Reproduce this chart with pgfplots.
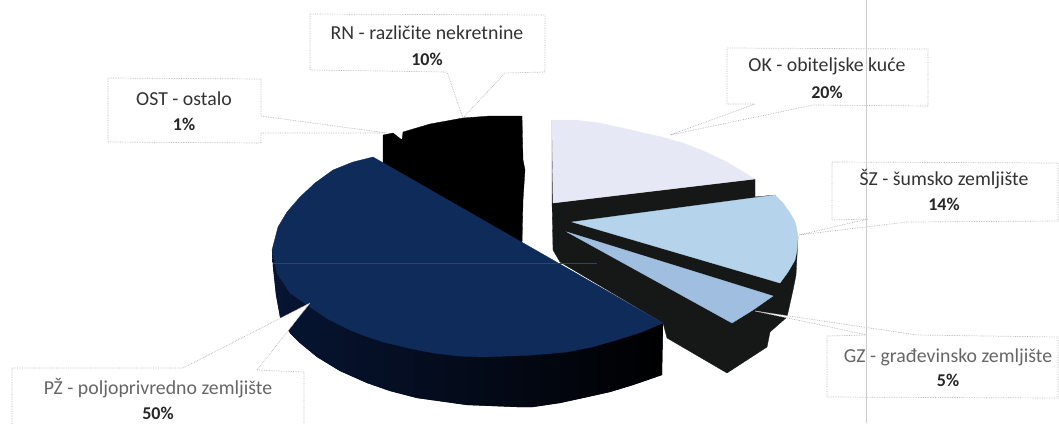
\documentclass[border=0pt]{standalone}
\usepackage{pgfplots}
\pgfplotsset{compat=1.18}
\usepackage{fontspec}
\setmainfont{Carlito}
\definecolor{bluetop}{HTML}{0F2B5A}
\definecolor{blueside}{HTML}{071533}
\definecolor{okc}{HTML}{E6E9F5}
\definecolor{szc}{HTML}{B5D3EA}
\definecolor{gzc}{HTML}{A0BFE0}
\definecolor{darks}{HTML}{161818}
\definecolor{boxc}{HTML}{B4B4B4}
\definecolor{txt}{HTML}{333333}
\pgfplotsset{
  face/.style={fill=#1,draw=#1,line width=0.3pt,forget plot},
  callout/.style={fill=white,draw=boxc,line width=0.7pt,densely dotted,forget plot},
}
\newcommand{\lab}[4]{\node[text=#4,font=\fontsize{19.8}{22}\selectfont] at (axis cs:#1,#2) {#3};}
\newcommand{\pct}[3]{\node[text=black!85,font=\fontsize{18}{20}\selectfont\bfseries] at (axis cs:#1,#2) {#3};}
\begin{document}
\begin{tikzpicture}
\begin{axis}[x=1pt,y=1pt,y dir=reverse,xmin=0,xmax=1059,ymin=0,ymax=423,hide axis,clip=true,
  scale only axis,anchor=north west,at={(0,0)}]
\addplot[draw=none,forget plot] coordinates {(0,0) (1059,423)};
% RN + OST (black)
\addplot[face=black] coordinates {(383,135)(393,133)(402,140)(403,132)(430,124)(463,118)(490,116)(522,116)(523,160)(525,170)(523,200)(522,245)(383,165)} -- cycle;
% dark sides of right wedges
\addplot[face=darks] coordinates {(552,120)(553,203)(755,179)(755,197)(775,195)(798,237)(796,275)(793,290)(787,317)(770,332)(767,347)(727,373)(667,338)(663,323)(560,262)(553,250)(552,200)} -- cycle;
% OK
\addplot[face=okc] coordinates {(552,120)(575,120)(600,123)(640,132)(662,137)(683,143)(706,152)(727,162)(755,179)(553,203)} -- cycle;
% SZ
\addplot[face=szc] coordinates {(572,222)(775,195)(783,203)(790,213)(794,220)(796,225)(798,237)(797,250)(795,260)(788,272)(780,283)} -- cycle;
% GZ
\addplot[face=gzc] coordinates {(567,232)(773,296)(753,310)(732,323)} -- cycle;
% PZ side
\addplot[fill=blueside,draw=none,left color=blueside,right color=black,forget plot] coordinates {(272,250)(273,267)(276,295)(280,317)(290,333)(300,343)(317,357)(340,371)(367,383)(390,391)(417,398)(467,405)(517,407)(533,407)(560,403)(583,398)(610,392)(633,385)(662,375)(663,323)(400,300)} -- cycle;
% PZ top
\addplot[face=bluetop] coordinates {(373,157)(663,323)(642,332)(617,340)(592,347)(567,352)(533,355)(483,357)(458,356)(433,353)(408,348)(383,342)(365,336)(350,330)(328,319)(310,307)(290,293)(277,273)(272,250)(278,227)(287,212)(300,197)(315,183)(333,170)(353,162)} -- cycle;
\addplot[color=bluetop!88!white,line width=0.4pt,forget plot] coordinates {(273,263) (597,263)};
% callouts
\addplot[callout] coordinates {(310,14)(545,15)(545,72)(505,73)(463,118)(447,72)(310,70)} -- cycle;
\addplot[callout] coordinates {(108,78)(261,79)(261,116)(387,133)(261,133)(261,143)(108,142)} -- cycle;
\addplot[callout] coordinates {(727,48)(928,49)(928,106)(813,105)(670,135)(755,104)(727,104)} -- cycle;
\addplot[callout] coordinates {(832,162)(1058,163)(1058,221)(907,222)(799,235)(868,219)(832,220)} -- cycle;
\addplot[callout] coordinates {(827,336)(867,335)(755,311)(917,335)(1058,337)(1058,398)(827,397)} -- cycle;
\addplot[callout] coordinates {(12,368)(183,368)(310,303)(257,370)(304,372)(304,430)(12,430)} -- cycle;
% scan line
\addplot[color=black!20,line width=0.5pt,forget plot] coordinates {(866,0) (866,423)};
\lab{427}{33}{RN - različite nekretnine}{txt}
\pct{427}{59}{10\%}
\lab{184}{99}{OST - ostalo}{txt}
\pct{184}{124}{1\%}
\lab{827}{66}{OK - obiteljske kuće}{txt}
\pct{827}{92}{20\%}
\lab{944}{179}{ŠZ - šumsko zemljište}{txt}
\pct{944}{204}{14\%}
\lab{948}{357}{GZ - građevinsko zemljište}{black!60}
\pct{948}{380}{5\%}
\lab{158}{388}{PŽ - poljoprivredno zemljište}{black!60}
\pct{158}{413}{50\%}
\end{axis}
\end{tikzpicture}
\end{document}
